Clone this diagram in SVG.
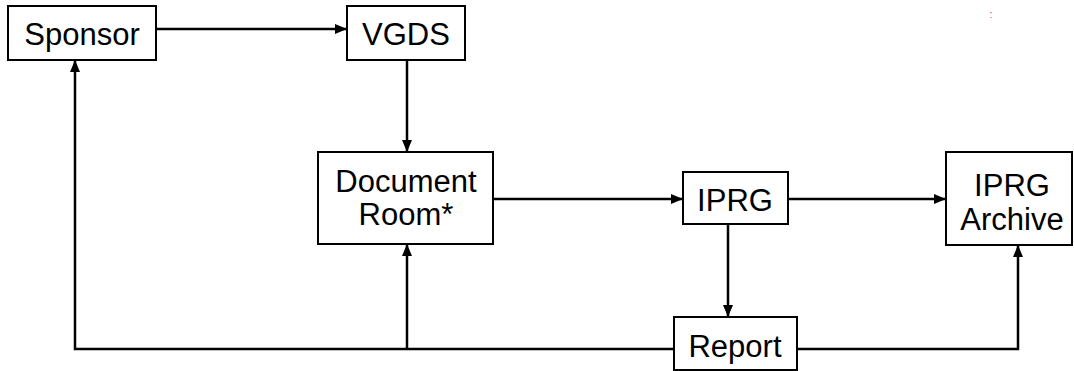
<svg xmlns="http://www.w3.org/2000/svg" width="1074" height="371" viewBox="0 0 1074 371">
  <style>
    .box { fill: #ffffff; stroke: #000000; stroke-width: 2; }
    .lbl { font-family: "Liberation Sans", Arial, sans-serif; font-size: 31px; fill: #000000; text-anchor: middle; }
    .wire { fill: none; stroke: #000000; stroke-width: 2.5; }
  </style>
  <defs>
    <marker id="arrow" viewBox="0 0 12 10" refX="12" refY="5" markerWidth="12" markerHeight="10" markerUnits="userSpaceOnUse" orient="auto">
      <path d="M0,0 L12,5 L0,10 z" fill="#000000"/>
    </marker>
  </defs>
  <rect width="1074" height="371" fill="#ffffff"/>

  <!-- connectors -->
  <g id="connectors">
    <line class="wire" x1="156" y1="29" x2="347" y2="29" marker-end="url(#arrow)"/>
    <line class="wire" x1="407" y1="60" x2="407" y2="152" marker-end="url(#arrow)"/>
    <line class="wire" x1="493" y1="199" x2="683" y2="199" marker-end="url(#arrow)"/>
    <line class="wire" x1="788" y1="199" x2="946" y2="199" marker-end="url(#arrow)"/>
    <line class="wire" x1="728" y1="224" x2="728" y2="317" marker-end="url(#arrow)"/>
    <polyline class="wire" points="674,349 75,349 75,60" marker-end="url(#arrow)"/>
    <line class="wire" x1="407" y1="349" x2="407" y2="244" marker-end="url(#arrow)"/>
    <polyline class="wire" points="797,349 1018,349 1018,245" marker-end="url(#arrow)"/>
  </g>

  <!-- nodes -->
  <g id="sponsor">
    <rect class="box" x="8" y="6" width="148" height="54"/>
    <text class="lbl" x="82" y="45">Sponsor</text>
  </g>
  <g id="vgds">
    <rect class="box" x="347" y="6" width="118" height="54"/>
    <text class="lbl" x="406" y="45">VGDS</text>
  </g>
  <g id="document-room">
    <rect class="box" x="318" y="152" width="175" height="92"/>
    <text class="lbl" x="406" y="192">Document</text>
    <text class="lbl" x="406" y="225">Room*</text>
  </g>
  <g id="iprg">
    <rect class="box" x="683" y="172" width="105" height="52"/>
    <text class="lbl" x="735" y="211">IPRG</text>
  </g>
  <g id="iprg-archive">
    <rect class="box" x="946" y="152" width="126" height="93"/>
    <text class="lbl" x="1012" y="196">IPRG</text>
    <text class="lbl" x="1012" y="230">Archive</text>
  </g>
  <g id="report">
    <rect class="box" x="674" y="317" width="123" height="53"/>
    <text class="lbl" x="735" y="357">Report</text>
  </g>

  <text x="991" y="18" font-family="Liberation Sans, sans-serif" font-size="10" fill="#555555" text-anchor="middle">:</text>
</svg>
